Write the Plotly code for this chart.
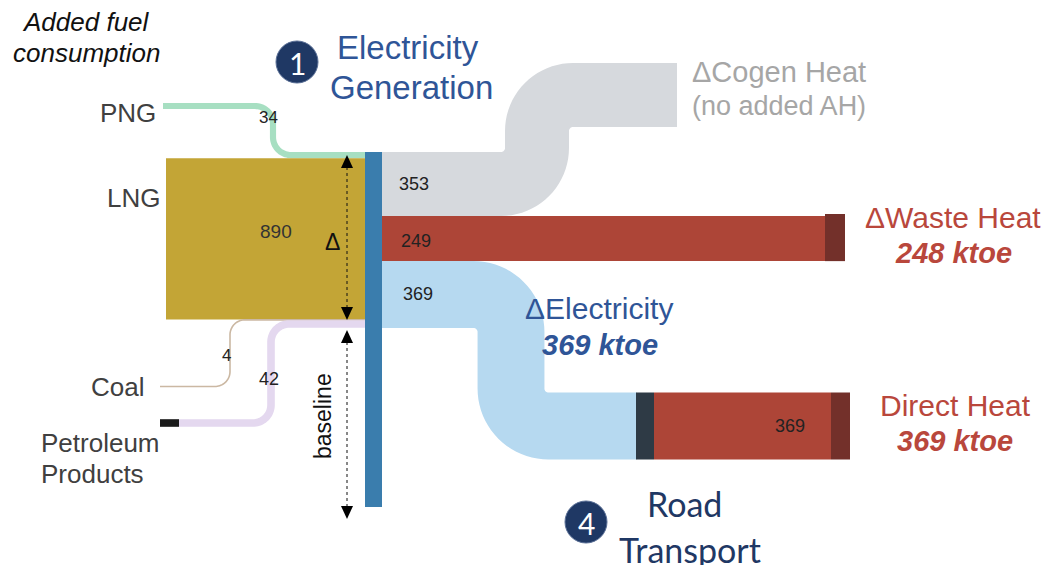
import math
import plotly.graph_objects as go

# ---------------- data ----------------
input_labels = ["PNG", "LNG", "Coal", "Petroleum Products"]
input_values = [34, 890, 4, 42]
output_labels = ["ΔCogen Heat", "ΔWaste Heat", "ΔElectricity"]
output_values = [353, 249, 369]
direct_heat_value = 369
waste_heat_label_value = 248
electricity_label_value = 369

# ---------------- styling / layout ----------------
W, H = 1045, 565
NODE_TOP = 152
NODE_X0, NODE_X1 = 365, 382
NODE_BOTTOM = 507
SCALE = 176.0 / sum(output_values)  # px per ktoe

C_PNG = "#a7dfc2"
C_LNG = "#c3a536"
C_COAL = "#cbb8a3"
C_PET = "#e4d8ef"
C_GRAY = "#d6d9dd"
C_RED = "#ad4537"
C_DRED = "#73302a"
C_LBLUE = "#b6d9f0"
C_DNODE = "#2e3a45"
C_NODE = "#3a7dad"
FONT = "Liberation Sans, Arial, sans-serif"
FONT2 = "Lato, sans-serif"

fig = go.Figure()
shapes = []


def pipe_path(pts, t, r):
    """Closed polygon path for a band of thickness t following an orthogonal
    centerline with rounded corners of radius r."""
    samples = []  # (x, y, tx, ty)
    d0 = (pts[1][0] - pts[0][0], pts[1][1] - pts[0][1])
    n0 = math.hypot(*d0)
    samples.append((pts[0][0], pts[0][1], d0[0] / n0, d0[1] / n0))
    for i in range(1, len(pts) - 1):
        V = pts[i]
        a = (V[0] - pts[i - 1][0], V[1] - pts[i - 1][1])
        b = (pts[i + 1][0] - V[0], pts[i + 1][1] - V[1])
        na, nb = math.hypot(*a), math.hypot(*b)
        d1 = (a[0] / na, a[1] / na)
        d2 = (b[0] / nb, b[1] / nb)
        C = (V[0] - d1[0] * r + d2[0] * r, V[1] - d1[1] * r + d2[1] * r)
        for k in range(21):
            phi = (math.pi / 2) * k / 20
            vx = -d2[0] * math.cos(phi) + d1[0] * math.sin(phi)
            vy = -d2[1] * math.cos(phi) + d1[1] * math.sin(phi)
            tx = d2[0] * math.sin(phi) + d1[0] * math.cos(phi)
            ty = d2[1] * math.sin(phi) + d1[1] * math.cos(phi)
            samples.append((C[0] + r * vx, C[1] + r * vy, tx, ty))
    dl = (pts[-1][0] - pts[-2][0], pts[-1][1] - pts[-2][1])
    nl = math.hypot(*dl)
    samples.append((pts[-1][0], pts[-1][1], dl[0] / nl, dl[1] / nl))
    left, right = [], []
    for x, y, tx, ty in samples:
        sx, sy = -ty, tx
        left.append((x + sx * t / 2, y + sy * t / 2))
        right.append((x - sx * t / 2, y - sy * t / 2))
    poly = left + right[::-1]
    return "M " + " L ".join(f"{x:.2f},{y:.2f}" for x, y in poly) + " Z"


def add_band(pts, t, r, color):
    shapes.append(dict(type="path", path=pipe_path(pts, t, r), fillcolor=color,
                       line=dict(width=0), xref="x", yref="y", layer="below"))


def add_rect(x0, y0, x1, y1, color):
    shapes.append(dict(type="rect", x0=x0, y0=y0, x1=x1, y1=y1, fillcolor=color,
                       line=dict(width=0), xref="x", yref="y", layer="below"))


# ---- input side stacking ----
in_th = [v * SCALE for v in input_values]
in_y = []
y = NODE_TOP
for t in in_th:
    in_y.append((y, y + t))
    y += t

# PNG
t = in_th[0]; yc = (in_y[0][0] + in_y[0][1]) / 2
add_band([(163, 106), (273, 106), (273, yc), (NODE_X0, yc)], t, 18, C_PNG)
# LNG block
add_rect(166, in_y[1][0], NODE_X0, in_y[1][1], C_LNG)
# Coal
t = max(in_th[2], 1.6); yc = (in_y[2][0] + in_y[2][1]) / 2
add_band([(160, 386.5), (230, 386.5), (230, yc), (NODE_X0, yc)], t, 15, C_COAL)
# Petroleum
t = in_th[3]; yc = (in_y[3][0] + in_y[3][1]) / 2
add_band([(179, 423), (271, 423), (271, yc), (NODE_X0, yc)], t, 18, C_PET)
add_rect(160, 423 - t / 2, 179, 423 + t / 2, "#1a1a1a")

# ---- output side stacking ----
out_th = [v * SCALE for v in output_values]
out_y = []
y = NODE_TOP
for t in out_th:
    out_y.append((y, y + t))
    y += t

# Cogen heat (gray)
t = out_th[0]; yc = (out_y[0][0] + out_y[0][1]) / 2
add_band([(NODE_X1, yc), (537, yc), (537, 63 + t / 2), (677, 63 + t / 2)], t, t / 2 + 4, C_GRAY)
# Waste heat (red)
t = out_th[1]; yc = (out_y[1][0] + out_y[1][1]) / 2
add_band([(NODE_X1, yc), (825, yc)], t, 10, C_RED)
add_rect(825, out_y[1][0] - 2, 845, out_y[1][1], C_DRED)
# Electricity (light blue)
t = out_th[2]; yc = (out_y[2][0] + out_y[2][1]) / 2
dh_c = 426
add_band([(NODE_X1, yc), (511, yc), (511, dh_c), (637, dh_c)], t, t / 2 + 4, C_LBLUE)
dh_t = direct_heat_value * SCALE
add_rect(636, dh_c - dh_t / 2, 654, dh_c + dh_t / 2, C_DNODE)
add_rect(654, dh_c - dh_t / 2, 831, dh_c + dh_t / 2, C_RED)
add_rect(831, dh_c - dh_t / 2, 850, dh_c + dh_t / 2, C_DRED)

# central node
add_rect(NODE_X0, NODE_TOP, NODE_X1, NODE_BOTTOM, C_NODE)

# ---- dimension arrows ----
def vline_arrows(x, ytop, ybot):
    shapes.append(dict(type="line", x0=x, x1=x, y0=ytop + 12, y1=ybot - 12,
                       line=dict(color="#111", width=1, dash="dot"), xref="x", yref="y"))
    shapes.append(dict(type="path", path=f"M {x-6},{ytop+13} L {x+6},{ytop+13} L {x},{ytop} Z",
                       fillcolor="#000", line=dict(width=0), xref="x", yref="y"))
    shapes.append(dict(type="path", path=f"M {x-6},{ybot-13} L {x+6},{ybot-13} L {x},{ybot} Z",
                       fillcolor="#000", line=dict(width=0), xref="x", yref="y"))

vline_arrows(347, 155, 320)
vline_arrows(347, 330, 519)

# circles with numbers
for cx, cy in [(297, 62), (586, 522)]:
    shapes.append(dict(type="circle", x0=cx - 21, x1=cx + 21, y0=cy - 21, y1=cy + 21,
                       fillcolor="#1f3864", line=dict(color="#5a6f96", width=1), xref="x", yref="y"))

ann = []


def txt(x, y, s, size, color="#404040", xanchor="center", family=FONT, angle=0):
    ann.append(dict(x=x, y=y, text=s, showarrow=False, xref="x", yref="y",
                    xanchor=xanchor, yanchor="middle", textangle=angle,
                    font=dict(size=size, color=color, family=family)))


# left labels
txt(86, 22, "<i>Added fuel</i>", 26, "#111")
txt(86, 53, "<i>consumption</i>", 26, "#111")
txt(158, 113, input_labels[0], 26, "#404040", "right")
txt(162, 198, input_labels[1], 26, "#404040", "right")
txt(146, 387, input_labels[2], 26, "#404040", "right")
txt(39, 443, "Petroleum", 26, "#404040", "left")
txt(39, 474, "Products", 26, "#404040", "left")

# values on inputs
txt(268, 117, str(input_values[0]), 17, "#222")
txt(276, 231, str(input_values[1]), 19, "#333")
txt(226, 355, str(input_values[2]), 17, "#222")
txt(269, 379, str(input_values[3]), 18, "#222")
txt(332, 242, "Δ", 23, "#111")
txt(323, 416, "baseline", 23, "#111", angle=-90)

# values on outputs
txt(414, 184, str(output_values[0]), 18, "#222")
txt(416, 241, str(output_values[1]), 18, "#222")
txt(418, 294, str(output_values[2]), 18, "#222")
txt(790, 426, str(direct_heat_value), 18, "#222")

# numbered circles
txt(297, 63, "1", 30, "white", family=FONT2)
txt(586, 523, "4", 30, "white", family=FONT2)

# headings
txt(408, 47, "Electricity", 33, "#2f5597")
txt(411, 87, "Generation", 33, "#2f5597")
txt(684, 503, "Road", 34, "#1f3864", family=FONT2)
txt(690, 549, "Transport", 34, "#1f3864", family=FONT2)

# right labels
txt(779, 72, output_labels[0], 29, "#a6a6a6")
txt(779, 106, "(no added AH)", 27, "#a6a6a6")
txt(953, 217, output_labels[1], 30, "#b9473c")
txt(953, 253, f"<b><i>{waste_heat_label_value} ktoe</i></b>", 29, "#b9473c")
txt(599, 308, output_labels[2], 30, "#2f5597")
txt(600, 345, f"<b><i>{electricity_label_value} ktoe</i></b>", 29, "#2f5597")
txt(955, 405, "Direct Heat", 30, "#b9473c")
txt(955, 441, f"<b><i>{direct_heat_value} ktoe</i></b>", 29, "#b9473c")

fig.update_layout(
    width=W, height=H, autosize=False,
    margin=dict(l=0, r=0, t=0, b=0),
    paper_bgcolor="white", plot_bgcolor="white",
    xaxis=dict(range=[0, W], visible=False, fixedrange=True),
    yaxis=dict(range=[H, 0], visible=False, fixedrange=True),
    shapes=shapes, annotations=ann, showlegend=False,
)
fig.write_html(
    "out.html",
    config={"displayModeBar": False},
    post_script="document.body.style.margin='0';document.body.style.overflow='hidden';",
)
